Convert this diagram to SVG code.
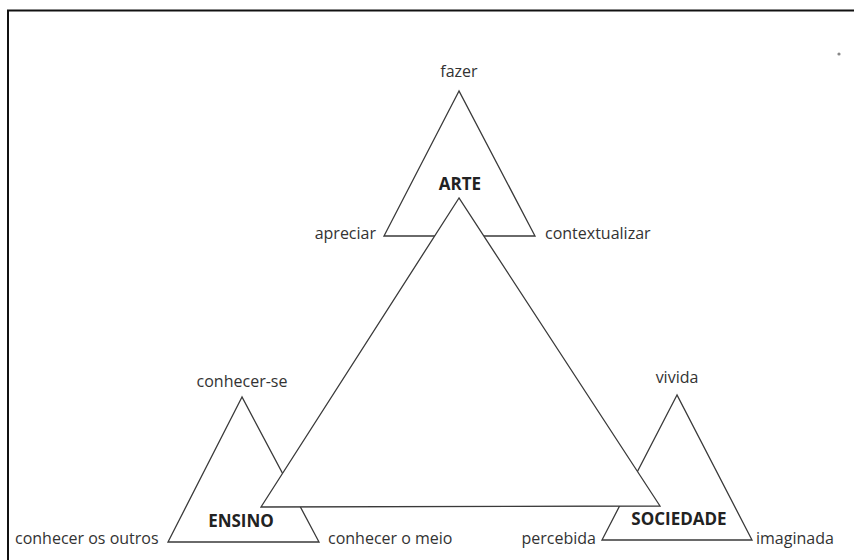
<svg xmlns="http://www.w3.org/2000/svg" width="854" height="560" viewBox="0 0 854 560">
<style>
.tri{fill:#fff;stroke:#3a3a3a;stroke-width:1.3;stroke-linejoin:miter}
.t{font-family:"Open Sans","Noto Sans",sans-serif;font-size:16px;fill:#333}
.b{font-family:"Open Sans","Noto Sans",sans-serif;font-size:17px;font-weight:bold;fill:#222}
</style>
<rect width="854" height="560" fill="#fff"/>
<path d="M8,562 V10.5 H858" fill="none" stroke="#111" stroke-width="2"/>
<circle cx="839" cy="54" r="1.6" fill="#888"/>
<g id="arte-tri">
<polygon class="tri" points="459,91 384,236 535,236"/>
<text class="t" x="459" y="77" text-anchor="middle">fazer</text>
<text class="b" x="460" y="190" text-anchor="middle">ARTE</text>
<text class="t" x="376" y="239" text-anchor="end">apreciar</text>
<text class="t" x="545" y="239">contextualizar</text>
</g>
<g id="ensino-tri">
<polygon class="tri" points="242,397 168,542 319,542"/>
<text class="t" x="242" y="387" text-anchor="middle">conhecer-se</text>
<text class="b" x="241" y="527" text-anchor="middle">ENSINO</text>
<text class="t" x="15" y="544">conhecer os outros</text>
<text class="t" x="328" y="544">conhecer o meio</text>
</g>
<g id="sociedade-tri">
<polygon class="tri" points="677,395 602,540 752,540"/>
<text class="t" x="677" y="383" text-anchor="middle">vivida</text>
<text class="b" x="679" y="525" text-anchor="middle">SOCIEDADE</text>
<text class="t" x="596" y="544" text-anchor="end">percebida</text>
<text class="t" x="756" y="544">imaginada</text>
</g>
<g id="connectors">
<polygon class="tri" points="459,198 261,507 660,506"/>
</g>
</svg>
